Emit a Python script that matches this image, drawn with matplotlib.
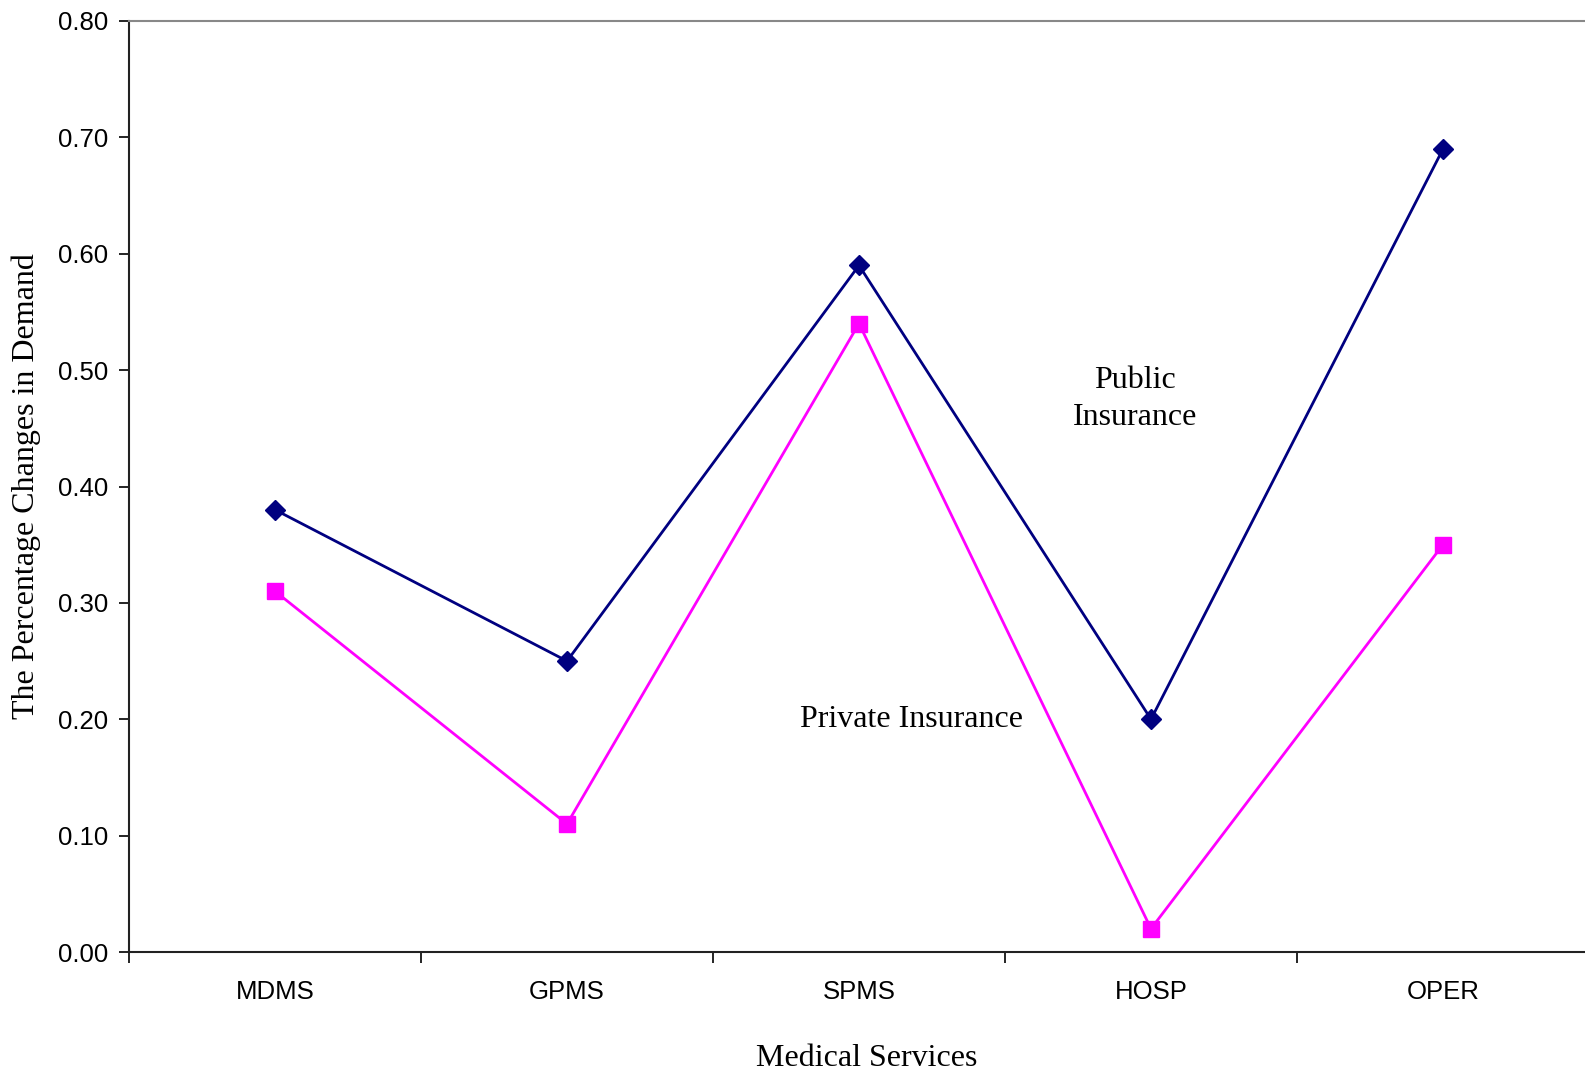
import matplotlib
matplotlib.use("Agg")
import matplotlib.pyplot as plt
from matplotlib.ticker import FixedLocator, NullFormatter, MultipleLocator, FormatStrFormatter

services = ["MDMS", "GPMS", "SPMS", "HOSP", "OPER"]
public_insurance = [0.38, 0.25, 0.59, 0.20, 0.69]
private_insurance = [0.31, 0.11, 0.54, 0.02, 0.35]

sans = "Liberation Sans"
serif = "Liberation Serif"

fig = plt.figure(figsize=(15.85, 10.71), dpi=100)
W, H = 1585, 1071
left, right, top, bottom = 129, 1589, 21, 952
ax = fig.add_axes([left / W, 1 - bottom / H, (right - left) / W, (bottom - top) / H])

x = list(range(len(services)))
ax.plot(x, public_insurance, color="#000080", lw=2.0, marker="D", ms=10,
        markeredgecolor="#000080", markerfacecolor="#000080", clip_on=False, zorder=3)
ax.plot(x, private_insurance, color="#FF00FF", lw=2.0, marker="s", ms=11.3,
        markeredgecolor="#FF00FF", markerfacecolor="#FF00FF", clip_on=False, zorder=3)

ax.set_xlim(-0.5, len(services) - 0.5)
ax.set_ylim(0, 0.8)

ax.yaxis.set_major_locator(MultipleLocator(0.1))
ax.yaxis.set_major_formatter(FormatStrFormatter("%.2f"))
ax.tick_params(axis="y", direction="out", length=7, width=1.2, pad=8,
               labelsize=18.5, colors="black")
for lab in ax.get_yticklabels():
    lab.set_fontfamily(sans)

# Category labels centred between tick marks at the category boundaries
ax.xaxis.set_major_locator(FixedLocator([i - 0.5 for i in range(len(services) + 1)]))
ax.xaxis.set_major_formatter(NullFormatter())
ax.xaxis.set_minor_locator(FixedLocator(x))
ax.set_xticks(x, services, minor=True)
ax.tick_params(axis="x", which="major", direction="out", length=8, width=1.2)
ax.tick_params(axis="x", which="minor", length=0, pad=20, labelsize=18.5)
for lab in ax.get_xticklabels(minor=True):
    lab.set_fontfamily(sans)

for side in ("left", "bottom"):
    ax.spines[side].set_linewidth(1.5)
    ax.spines[side].set_color("#222222")
ax.spines["top"].set_color("#888888")
ax.spines["top"].set_linewidth(1.5)
ax.spines["right"].set_visible(False)

ax.set_ylabel("The Percentage Changes in Demand", fontfamily=serif, fontsize=23, labelpad=12)
ax.set_xlabel("Medical Services", fontfamily=serif, fontsize=23, labelpad=29)
ax.xaxis.label.set_x(0.5055)

ax.text(2.945, 0.475, "Public\nInsurance", ha="center", va="center",
        fontfamily=serif, fontsize=23, linespacing=1.36)
ax.text(2.18, 0.20, "Private Insurance", ha="center", va="center",
        fontfamily=serif, fontsize=23)

fig.savefig("out.png", dpi=100)
